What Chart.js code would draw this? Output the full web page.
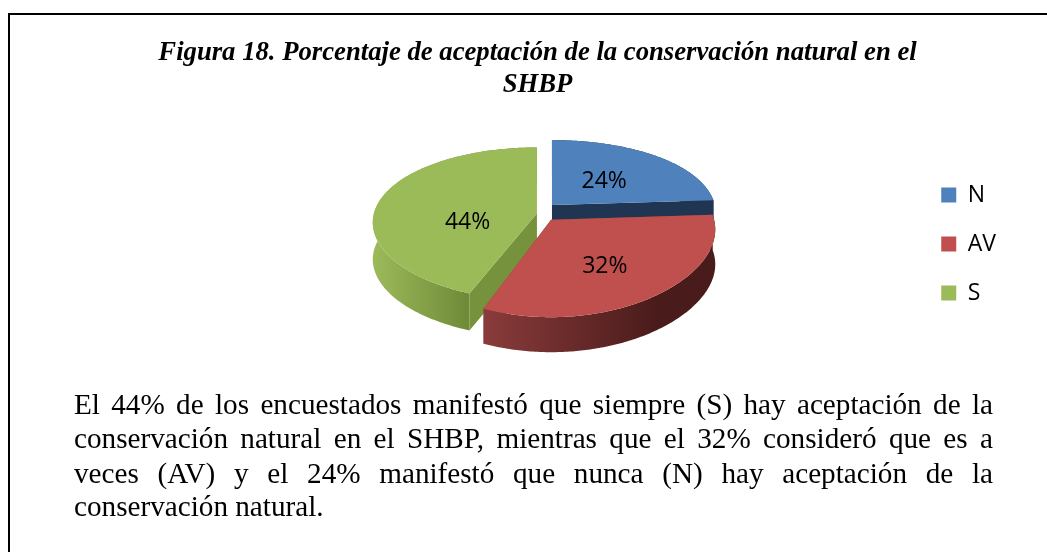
<!DOCTYPE html>
<html lang="es"><head><meta charset="utf-8">
<script src="https://cdn.jsdelivr.net/npm/chart.js@4"></script>
<style>
html,body{margin:0;padding:0;background:#fff;width:1047px;height:552px;overflow:hidden}
#frame{position:absolute;left:8px;top:13px;right:-4px;bottom:-4px;border:2px solid #000}
canvas{position:absolute;left:0;top:0}
.ln{position:absolute;left:74px;width:919px;font:29.2px/32px "Liberation Serif",serif;color:#000;white-space:normal;text-align:justify;text-align-last:justify}
.ln.last{text-align-last:left}
</style></head><body>
<div id="frame"></div>
<canvas id="c" width="1047" height="488"></canvas>
<div class="ln" style="top:388px">El 44% de los encuestados manifestó que siempre (S) hay aceptación de la</div>
<div class="ln" style="top:422px">conservación natural en el SHBP, mientras que el 32% consideró que es a</div>
<div class="ln" style="top:457px">veces (AV) y el 24% manifestó que nunca (N) hay aceptación de la</div>
<div class="ln last" style="top:490px">conservación natural.</div>
<script>
const categories = ["N", "AV", "S"];
const percentages = [24, 32, 44];
const topColours = ["#4f81bd", "#c0504d", "#9bbb59"];
const sideColours = ["#1f3552", "#8a3b3b", "#76923c"];
const wallStart = ["#1f3552", "#8a3b3b", "#9dba5a"];
const wallEnd = ["#1f3552", "#4a1b1b", "#6e8a38"];
const titleLines = ["Figura 18. Porcentaje de aceptación de la conservación natural en el", "SHBP"];
const drawOrder = [0, 2, 1];

const view = {
  cx: 545.8, cy: 212, baseSquash: 78 / 163, perspX: 0.12, explodeY: 2.2,
  squash: [78 / 163, 78 / 163, 75 / 163],
  persp: [0.2, 0.2, 0.14],
  depth: [35, 35, 37],
  apexDrop: [0, 0, 3],
  labelReach: [0.48, 0.62, 0.43],
  labelShift: [[3, 0], [-12, 0], [-2, 15]]
};

function rim(a, r, i) {
  const u = Math.sin(a), v = -Math.cos(a);
  return {x: r * u / (1 - view.perspX * v), y: r * view.squash[i] * v / (1 - view.persp[i] * v)};
}
function apex(el, i) {
  const mid = (el.startAngle + el.endAngle) / 2 + Math.PI / 2;
  const d = el.options.offset;
  return {
    x: view.cx + d * Math.sin(mid),
    y: view.cy - d * view.baseSquash * view.explodeY * Math.cos(mid) + view.apexDrop[i]
  };
}
const pie3d = {
  id: 'pie3d',
  beforeDatasetDraw(chart) {
    const ctx = chart.ctx;
    const arcs = chart.getDatasetMeta(0).data;
    drawOrder.forEach(i => {
      const el = arcs[i];
      const A = apex(el, i), r = el.outerRadius, depth = view.depth[i];
      const a0 = el.startAngle + Math.PI / 2, a1 = el.endAngle + Math.PI / 2;
      const pts = [];
      for (let k = 0; k <= 160; k++) {
        const a = a0 + (a1 - a0) * k / 160, p = rim(a, r, i);
        pts.push({x: A.x + p.x, y: A.y + p.y});
      }
      const first = pts[0], last = pts[pts.length - 1];
      // side faces of the cut
      ctx.fillStyle = sideColours[i];
      [first, last].forEach(p => {
        ctx.beginPath();
        ctx.moveTo(A.x, A.y);
        ctx.lineTo(p.x, p.y);
        ctx.lineTo(p.x, p.y + depth);
        ctx.lineTo(A.x, A.y + depth);
        ctx.closePath();
        ctx.fill();
      });
      // outer wall
      const visible = pts.filter(p => p.y >= A.y - 20);
      const vx = visible.map(p => p.x);
      const g = ctx.createLinearGradient(Math.min(...vx), 0, Math.max(...vx), 0);
      if (i === 2) { g.addColorStop(0, wallStart[i]); g.addColorStop(1, wallEnd[i]); }
      else { g.addColorStop(0, wallStart[i]); g.addColorStop(0.75, wallEnd[i]); g.addColorStop(1, wallEnd[i]); }
      ctx.fillStyle = g;
      ctx.beginPath();
      pts.forEach((p, n) => n ? ctx.lineTo(p.x, p.y) : ctx.moveTo(p.x, p.y));
      for (let n = pts.length - 1; n >= 0; n--) ctx.lineTo(pts[n].x, pts[n].y + depth);
      ctx.closePath();
      ctx.fill();
      // top face
      ctx.fillStyle = topColours[i];
      ctx.beginPath();
      ctx.moveTo(A.x, A.y);
      pts.forEach(p => ctx.lineTo(p.x, p.y));
      ctx.closePath();
      ctx.fill();
    });
    // labels
    ctx.fillStyle = '#000';
    ctx.font = '23px "Open Sans", sans-serif';
    ctx.textAlign = 'center';
    ctx.textBaseline = 'middle';
    arcs.forEach((el, i) => {
      const A = apex(el, i), mid = (el.startAngle + el.endAngle) / 2 + Math.PI / 2;
      const p = rim(mid, el.outerRadius * view.labelReach[i], i);
      ctx.fillText(percentages[i] + '%', A.x + p.x + view.labelShift[i][0], A.y + p.y + view.labelShift[i][1]);
    });
    return false;
  }
};

new Chart(document.getElementById('c'), {
  type: 'pie',
  data: {
    labels: categories,
    datasets: [{data: percentages, backgroundColor: topColours, borderWidth: 0, offset: 9}]
  },
  plugins: [pie3d],
  options: {
    responsive: false,
    animation: false,
    radius: 163,
    layout: {padding: {left: 69, top: 0, right: 41, bottom: 0}},
    plugins: {
      tooltip: {enabled: false},
      title: {
        display: true,
        text: titleLines,
        color: '#000',
        padding: {top: 37, bottom: 0},
        font: {family: '"Liberation Serif", serif', size: 26.7, weight: 'bold', style: 'italic', lineHeight: 1.2}
      },
      legend: {
        position: 'right',
        labels: {
          color: '#000',
          boxWidth: 15,
          boxHeight: 15,
          padding: 26,
          font: {family: '"Open Sans", sans-serif', size: 23}
        }
      }
    }
  }
});
</script>
</body></html>
